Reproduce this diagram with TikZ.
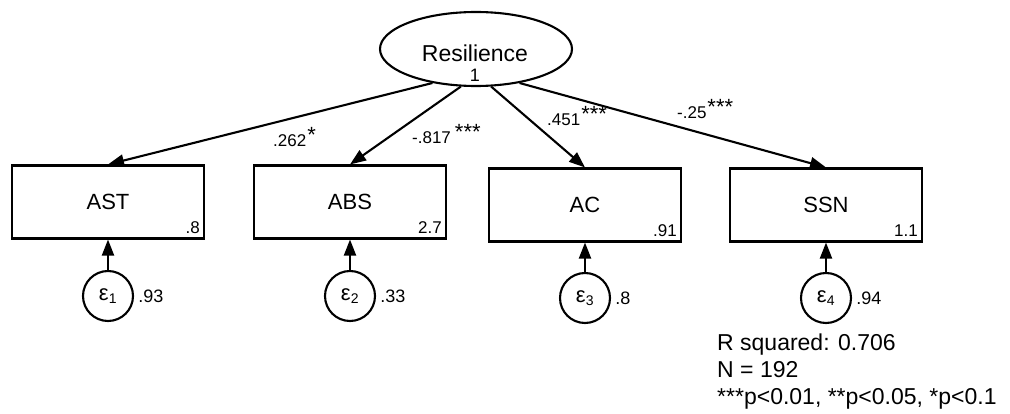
\documentclass[tikz,border=0pt]{standalone}
\usepackage{fontspec}
\setmainfont{Liberation Sans}
\usetikzlibrary{arrows.meta,shapes.geometric}
\newcommand{\sigstars}[1]{\hspace{1pt}\raisebox{4.5pt}{\fontsize{22}{22}\selectfont #1}}
\tikzset{
  obs/.style={draw, line width=2.1pt, minimum width=192pt, minimum height=73pt, inner sep=0pt, font=\fontsize{22}{22}\selectfont},
  lat/.style={draw, ellipse, line width=2.1pt, minimum width=192pt, minimum height=74pt, inner sep=0pt},
  err/.style={draw, circle, line width=2.1pt, minimum size=50pt, inner sep=0pt, font=\fontsize{22}{22}\selectfont},
  path/.style={line width=2.1pt, -{Triangle[length=16pt,width=12pt]}},
  coef/.style={font=\fontsize{17}{17}\selectfont, inner sep=0pt, anchor=base west},
  varlab/.style={font=\fontsize{17}{17}\selectfont, inner sep=0pt},
}
\begin{document}
\begin{tikzpicture}[x=1pt,y=-1pt]
\useasboundingbox (0,0) rectangle (1010,414);
\node[lat] (R) at (476,49) {};
\node[font=\fontsize{23}{23}\selectfont, inner sep=0pt] (Rt) at (475,53) {Resilience};
\node[font=\fontsize{18}{18}\selectfont, inner sep=0pt] (Rv) at (475,75) {1};

\node[obs] (AST) at (108,202) {AST};
\node[obs] (ABS) at (350,202) {ABS};
\node[obs] (AC) at (585,205) {AC};
\node[obs] (SSN) at (826,205) {SSN};

\node[varlab, anchor=base east] (vAST) at ([shift={(-5,-6)}]AST.south east) {.8};
\node[varlab, anchor=base east] (vABS) at ([shift={(-5,-6)}]ABS.south east) {2.7};
\node[varlab, anchor=base east] (vAC) at ([shift={(-5,-6)}]AC.south east) {.91};
\node[varlab, anchor=base east] (vSSN) at ([shift={(-5,-6)}]SSN.south east) {1.1};

\node[err] (e1) at (108,296) {ε\textsubscript{\fontsize{14}{14}\selectfont 1}};
\node[err] (e2) at (350,296) {ε\textsubscript{\fontsize{14}{14}\selectfont 2}};
\node[err] (e3) at (585,298) {ε\textsubscript{\fontsize{14}{14}\selectfont 3}};
\node[err] (e4) at (826,298) {ε\textsubscript{\fontsize{14}{14}\selectfont 4}};

\node[varlab, font=\fontsize{18}{18}\selectfont, anchor=west] (ve1) at ([xshift=4pt]e1.east) {.93};
\node[varlab, font=\fontsize{18}{18}\selectfont, anchor=west] (ve2) at ([xshift=4pt]e2.east) {.33};
\node[varlab, font=\fontsize{18}{18}\selectfont, anchor=west] (ve3) at ([xshift=4pt]e3.east) {.8};
\node[varlab, font=\fontsize{18}{18}\selectfont, anchor=west] (ve4) at ([xshift=4pt]e4.east) {.94};

\draw[path] (R.218) -- (AST.north);
\draw[path] (R.248) -- (ABS.north);
\draw[path] (R.292) -- (AC.north);
\draw[path] (R.322) -- (SSN.north);

\draw[path] (e1) -- (AST);
\draw[path] (e2) -- (ABS);
\draw[path] (e3) -- (AC);
\draw[path] (e4) -- (SSN);

\node[coef] (c1) at (273,147) {.262\sigstars{*}};
\node[coef] (c2) at (412,144) {-.817\hspace{3pt}\sigstars{***}};
\node[coef] (c3) at (547,126) {.451\sigstars{***}};
\node[coef] (c4) at (677,119) {-.25\sigstars{***}};

\node[anchor=north west, align=left, inner sep=0pt, font=\fontsize{23}{27}\selectfont] (note) at (717,334)
  {R squared: 0.706\\N = 192\\***p<0.01, **p<0.05, *p<0.1};
\end{tikzpicture}
\end{document}
